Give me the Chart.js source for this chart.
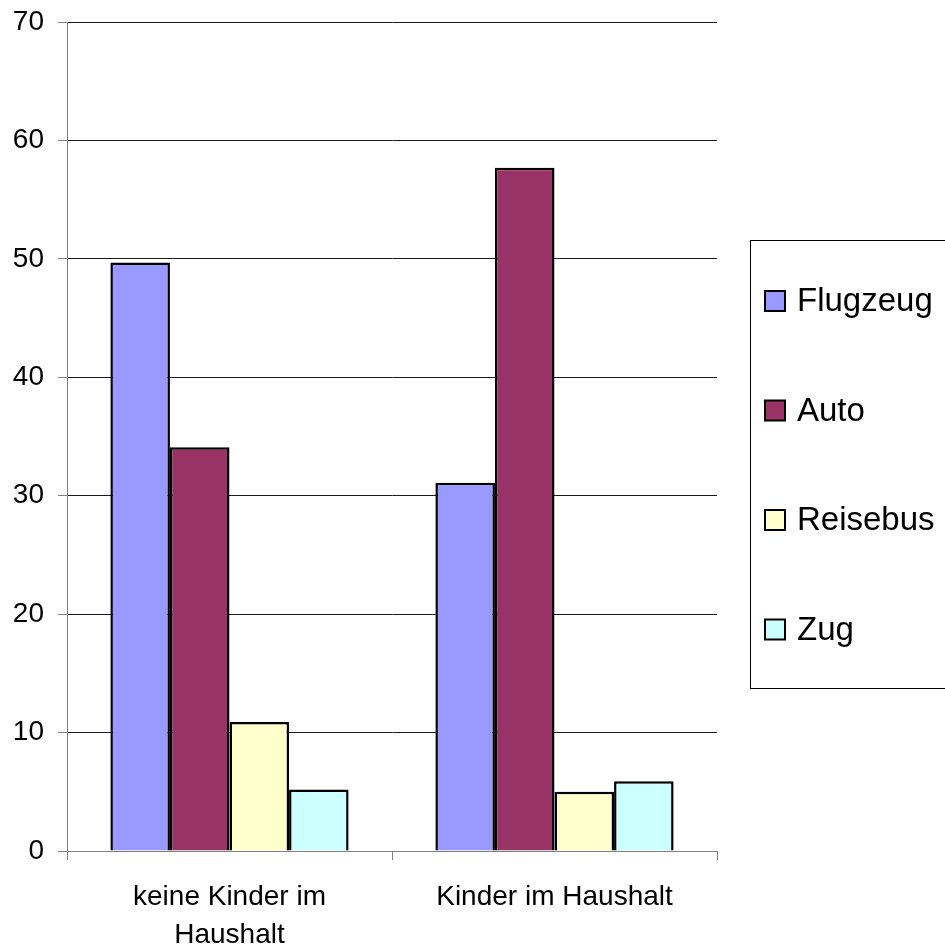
<!DOCTYPE html>
<html>
<head>
<meta charset="utf-8">
<script src="https://cdn.jsdelivr.net/npm/chart.js@4/dist/chart.umd.min.js"></script>
<style>
  html, body { margin: 0; padding: 0; background: #ffffff; }
  #wrap { width: 945px; height: 949px; position: relative; }
</style>
</head>
<body>
<div id="wrap"><canvas id="c" width="945" height="949"></canvas></div>
<script>
// Categories (household type) and the share per means of transport
const categories = [['keine Kinder im', 'Haushalt'], 'Kinder im Haushalt'];
const seriesNames = ['Flugzeug', 'Auto', 'Reisebus', 'Zug'];
const flugzeug = [49.7, 31.1];
const auto = [34.1, 57.7];
const reisebus = [10.9, 5.0];
const zug = [5.2, 5.9];
const yMin = 0, yMax = 70, yStep = 10;

const seriesValues = [flugzeug, auto, reisebus, zug];
const seriesColors = ['#9999FF', '#993366', '#FFFFCC', '#CCFFFF'];

const FONT = '"Liberation Sans", Arial, sans-serif';

// Boxed legend on the right, one entry per series
const boxLegend = {
  id: 'boxLegend',
  afterDraw(chart) {
    const ctx = chart.ctx;
    ctx.save();
    ctx.strokeStyle = '#000000';
    ctx.lineWidth = 1;
    ctx.strokeRect(750.5, 240.5, 220, 448);
    ctx.font = '33px ' + FONT;
    ctx.textBaseline = 'middle';
    ctx.textAlign = 'left';
    chart.data.datasets.forEach((ds, i) => {
      const cy = 301 + i * 109.5;
      ctx.fillStyle = ds.backgroundColor;
      ctx.fillRect(765, cy - 10, 20, 20);
      ctx.strokeStyle = '#000000';
      ctx.lineWidth = 2;
      ctx.strokeRect(765, cy - 10, 20, 20);
      ctx.fillStyle = '#000000';
      ctx.fillText(ds.label, 797, cy + 1);
    });
    ctx.restore();
  }
};

new Chart(document.getElementById('c'), {
  type: 'bar',
  data: {
    labels: categories,
    datasets: seriesNames.map((name, i) => ({
      label: name,
      data: seriesValues[i],
      backgroundColor: seriesColors[i],
      borderColor: '#000000',
      borderWidth: 2.5,
      categoryPercentage: 0.733,
      barPercentage: 1.0
    }))
  },
  options: {
    responsive: false,
    animation: false,
    layout: { padding: { top: 22, right: 228, left: 0, bottom: 0 } },
    plugins: {
      legend: { display: false },
      tooltip: { enabled: false }
    },
    scales: {
      x: {
        afterFit(scale) {
          scale.height = 98;
          scale.paddingLeft = 0;
          scale.paddingRight = 0;
        },
        grid: {
          offset: true,
          drawOnChartArea: false,
          tickLength: 9,
          tickColor: '#808080',
          lineWidth: 1
        },
        border: { color: '#808080', width: 1 },
        ticks: {
          color: '#000000',
          padding: 18,
          maxRotation: 0,
          font: { family: FONT, size: 28, lineHeight: 1.37 }
        }
      },
      y: {
        min: yMin,
        max: yMax,
        afterFit(scale) {
          scale.width = 67;
          scale.paddingTop = 0;
          scale.paddingBottom = 0;
        },
        grid: {
          color: '#1a1a1a',
          lineWidth: 1,
          tickLength: 9,
          tickColor: '#808080'
        },
        border: { color: '#808080', width: 1 },
        ticks: {
          stepSize: yStep,
          color: '#000000',
          padding: 14,
          font: { family: FONT, size: 28 }
        }
      }
    }
  },
  plugins: [boxLegend]
});
</script>
</body>
</html>
